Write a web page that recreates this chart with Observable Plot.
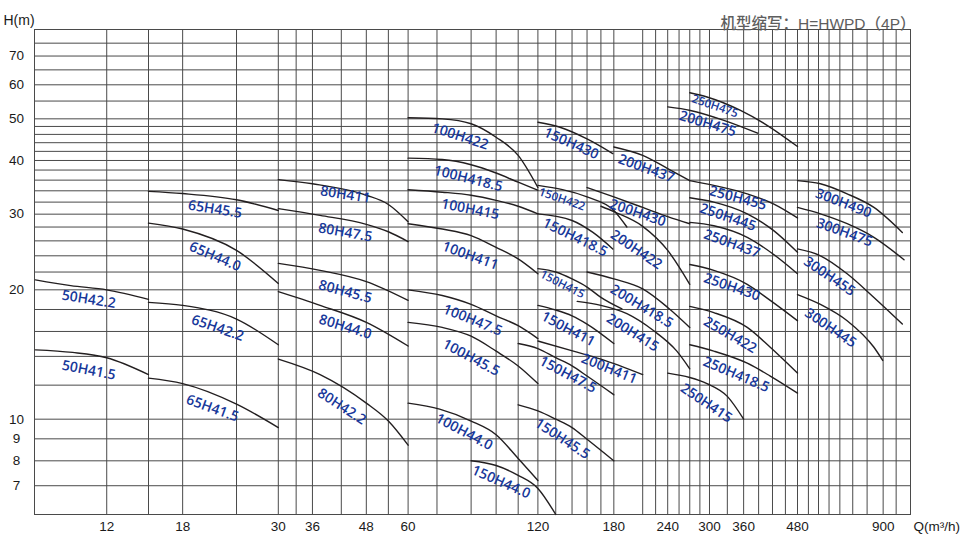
<!DOCTYPE html>
<html>
<head>
<meta charset="utf-8">
<script src="https://cdn.jsdelivr.net/npm/d3@7"></script>
<script src="https://cdn.jsdelivr.net/npm/@observablehq/plot@0.6"></script>
<style>
  body { margin: 0; background: #fff; }
</style>
</head>
<body>
<div id="chart"></div>
<script>
// ---------- axis values ----------
const xTicks = [12, 18, 30, 36, 48, 60, 120, 180, 240, 300, 360, 480, 900];
const yTicks = [7, 8, 9, 10, 20, 30, 40, 50, 60, 70];
const xGrid = [12, 15, 18, 24, 30, 33, 36, 42, 48, 54, 60, 70, 84, 96, 108, 120, 132, 144, 156, 168, 180,
  210, 225, 240, 255, 270, 285, 300, 330, 360, 390, 420, 450, 480, 520, 560, 605, 655, 720, 800, 900, 990];
const yGrid = [7, 8, 9, 10, 12, 14, 16, 18, 20, 22, 24, 26, 28, 30, 32, 34, 36, 38, 40, 42, 44, 46, 48, 50,
  55, 60, 65, 70, 75];

const title = "机型缩写：H=HWPD（4P）";
const xTitle = "Q(m³/h)";
const yTitle = "H(m)";

// ---------- pump curves (Q in m³/h, H in m) ----------
const curves50 = [
  {model: "50H42.2", q: [8.2, 9.9, 12, 15], h: [21.1, 20.45, 20.0, 19.0]},
  {model: "50H41.5", q: [8.2, 10, 12, 15], h: [14.5, 14.3, 13.9, 12.7]}
];
const curves65 = [
  {model: "65H45.5", q: [15, 18, 24, 30], h: [33.9, 33.5, 32.4, 30.6]},
  {model: "65H44.0", q: [15, 18, 24, 30], h: [28.6, 27.7, 24.7, 20.7]},
  {model: "65H42.2", q: [15, 18, 24, 30], h: [18.7, 18.4, 17.1, 14.9]},
  {model: "65H41.5", q: [15, 18, 24, 30], h: [12.46, 12.1, 10.84, 9.56]}
];
const curves80 = [
  {model: "80H411", q: [30, 36, 48, 54, 60], h: [36.1, 35.3, 33.2, 31.6, 28.8]},
  {model: "80H47.5", q: [30, 37.5, 48, 54, 60], h: [30.9, 29.8, 28.4, 27.3, 25.9]},
  {model: "80H45.5", q: [30, 37.5, 48, 60], h: [23.05, 22.2, 20.9, 18.9]},
  {model: "80H44.0", q: [30, 37.5, 48, 60], h: [19.8, 18.4, 16.8, 14.8]},
  {model: "80H42.2", q: [30, 37.5, 48, 54, 60], h: [13.8, 12.7, 10.9, 9.9, 8.7]}
];
const curves100 = [
  {model: "100H422", q: [60, 72, 84, 96, 108, 120], h: [50.3, 50.0, 48.7, 45.3, 41.1, 34.6]},
  {model: "100H418.5", q: [60, 72, 84, 96, 108, 120], h: [40.5, 40.2, 39.1, 37.4, 35.6, 34.1]},
  {model: "100H415", q: [60, 72, 84, 96, 108, 120], h: [34.2, 33.75, 33.2, 32.3, 31.3, 30.05]},
  {model: "100H411", q: [60, 72, 84, 96, 108, 120], h: [28.5, 27.7, 26.75, 25.1, 23.6, 21.8]},
  {model: "100H47.5", q: [60, 72, 84, 96, 108, 120], h: [20.0, 19.4, 18.5, 17.4, 16.5, 15.4]},
  {model: "100H45.5", q: [60, 72, 84, 96, 108, 120], h: [16.8, 16.35, 15.6, 14.4, 13.3, 12.1]},
  {model: "100H44.0", q: [60, 71, 84, 96, 108, 120], h: [10.9, 10.55, 9.9, 9.2, 8.1, 7.2]}
];
const curves150 = [
  {model: "150H430", q: [120, 135, 156, 179], h: [49.1, 47.8, 44.9, 41.5]},
  {model: "150H422", q: [120, 156, 180, 193], h: [35.0, 32.9, 30.6, 28.0]},
  {model: "150H418.5", q: [120, 144, 161, 179], h: [30.05, 29.0, 27.2, 24.9]},
  {model: "150H415", q: [120, 132, 144, 156, 168, 188], h: [22.4, 22.0, 21.2, 20.3, 19.2, 18.05]},
  {model: "150H411", q: [120, 132, 144, 156, 180], h: [18.4, 17.95, 17.4, 16.65, 15.0]},
  {model: "150H47.5", q: [108, 120, 132, 144, 156, 180], h: [15.0, 14.6, 13.9, 13.3, 12.6, 11.4]},
  {model: "150H45.5", q: [108, 120, 132, 144, 156, 180], h: [10.8, 10.45, 10.0, 9.56, 8.98, 8.0]},
  {model: "150H44.0", q: [84, 96, 108, 120, 132], h: [8.0, 7.8, 7.4, 6.9, 6.0]}
];
const curves200 = [
  {model: "200H475", q: [240, 271, 324, 388], h: [53.3, 52.3, 49.6, 46.3]},
  {model: "200H437", q: [180, 210, 240, 270], h: [43.0, 41.1, 38.3, 35.9]},
  {model: "200H430", q: [156, 180, 210, 240, 270], h: [34.6, 32.9, 31.1, 29.6, 28.5]},
  {model: "200H422", q: [168, 180, 210, 240, 270], h: [31.3, 30.4, 28.1, 24.7, 20.6]},
  {model: "200H418.5", q: [156, 180, 210, 240, 270], h: [22.0, 21.2, 20.1, 18.2, 16.35]},
  {model: "200H415", q: [148, 168, 193, 222, 252, 270], h: [18.8, 18.4, 17.6, 16.1, 14.4, 13.1]},
  {model: "200H411", q: [120, 145, 168, 210], h: [15.2, 14.4, 13.8, 12.7]}
];
const curves250 = [
  {model: "250H475", q: [270, 296, 354, 408, 480], h: [57.5, 56.2, 52.3, 48.3, 43.1]},
  {model: "250H455", q: [270, 307, 367, 422, 480], h: [35.9, 35.0, 33.45, 31.7, 29.4]},
  {model: "250H445", q: [270, 307, 367, 422, 480], h: [32.75, 32.0, 30.05, 27.5, 24.45]},
  {model: "250H437", q: [270, 307, 367, 422, 480], h: [28.7, 28.2, 26.5, 24.2, 21.8]},
  {model: "250H430", q: [270, 307, 367, 415, 480], h: [22.9, 22.2, 20.6, 18.9, 16.95]},
  {model: "250H422", q: [270, 307, 367, 415, 480], h: [18.3, 17.7, 16.35, 14.7, 12.8]},
  {model: "250H418.5", q: [270, 307, 367, 415, 480], h: [14.9, 14.4, 13.5, 12.6, 11.5]},
  {model: "250H415", q: [240, 270, 296, 330, 360], h: [12.8, 12.5, 12.1, 11.3, 10.0]}
];
const curves300 = [
  {model: "300H490", q: [480, 568, 691, 841, 1036], h: [35.9, 35.3, 33.45, 31.1, 27.2]},
  {model: "300H475", q: [480, 568, 691, 841, 1049], h: [31.1, 30.05, 28.5, 26.5, 23.5]},
  {model: "300H455", q: [480, 568, 691, 841, 1036], h: [24.9, 24.0, 21.8, 19.2, 16.65]},
  {model: "300H445", q: [480, 568, 691, 841, 897], h: [19.5, 18.5, 16.95, 14.7, 13.7]}
];

// ---------- curve labels (anchor point in Q / H) ----------
const labelModels = ["50H42.2", "50H41.5", "65H45.5", "65H44.0", "65H42.2", "65H41.5",
  "80H411", "80H47.5", "80H45.5", "80H44.0", "80H42.2",
  "100H422", "100H418.5", "100H415", "100H411", "100H47.5", "100H45.5", "100H44.0",
  "150H44.0", "150H45.5", "150H47.5", "150H411", "150H430", "150H418.5",
  "200H437", "200H430", "200H422", "200H418.5", "200H415", "200H411", "200H475",
  "250H455", "250H445", "250H437", "250H430", "250H422", "250H418.5", "250H415",
  "300H490", "300H475", "300H455", "300H445"];
const labelQ = [10.9, 10.9, 21.4, 21.4, 21.7, 21.1,
  42.9, 42.9, 42.9, 42.9, 42.1,
  79.2, 82.7, 83.6, 83.6, 84.7, 84.0, 80.9,
  98.6, 136.7, 140.8, 141, 143.4, 146.4,
  214, 204.5, 203, 209, 199, 175.6, 297,
  349, 331, 338, 338, 335, 346, 295,
  673, 678, 607, 612];
const labelH = [19.0, 13.0, 30.8, 23.9, 16.3, 10.6,
  33.3, 27.2, 19.8, 16.4, 10.7,
  45.5, 36.3, 30.8, 24.0, 17.0, 13.9, 9.34,
  7.14, 9.0, 12.7, 16.2, 43.8, 26.5,
  38.3, 30.2, 24.8, 18.3, 15.9, 13.1, 48.7,
  32.7, 29.5, 25.6, 20.3, 15.7, 12.7, 10.9,
  31.8, 27.2, 21.5, 16.3];
const smallLabelModels = ["150H422", "150H415", "250H475"];
const smallLabelQ = [136.5, 136.7, 309];
const smallLabelH = [32.5, 20.6, 53.5];

// ---------- styling (not data) ----------
const labelAngle = [9, 11, 9, 23, 19, 20,
  9, 10, 15, 17, 33,
  18, 14, 11, 20, 22, 28, 28,
  24, 33, 28, 28, 24, 26,
  20, 19, 34, 31, 32, 22, 17,
  15, 19, 20, 19, 30, 23, 34,
  21, 20, 34, 34];
const smallLabelAngle = [19, 27, 19];
const gridColor = "#4a4a4a";
const curveColor = "#231f20";
const labelColor = "#17389a";

const allCurves = [...curves50, ...curves65, ...curves80, ...curves100, ...curves150,
  ...curves200, ...curves250, ...curves300];
const rows = allCurves.flatMap(c => c.q.map((q, i) => ({model: c.model, q, h: c.h[i]})));
const labels = labelModels.map((m, i) => ({model: m, q: labelQ[i], h: labelH[i], angle: labelAngle[i]}));
const smallLabels = smallLabelModels.map((m, i) => ({model: m, q: smallLabelQ[i], h: smallLabelH[i], angle: smallLabelAngle[i]}));

const axisFont = "'Liberation Sans', Arial, sans-serif";
const labelFont = "'Open Sans', 'Noto Sans', sans-serif";

const chart = Plot.plot({
  width: 962,
  height: 542,
  marginLeft: 34,
  marginRight: 52,
  marginTop: 29,
  marginBottom: 28,
  style: {fontFamily: axisFont, background: "#fff", overflow: "visible"},
  x: {type: "log", domain: [8.16, 480, 1100], range: [34, 797, 910], axis: null},
  y: {type: "log", domain: [6, 80.7], axis: null},
  marks: [
    Plot.ruleX(xGrid, {x: d => d, stroke: gridColor, strokeWidth: 1}),
    Plot.ruleY(yGrid, {y: d => d, stroke: gridColor, strokeWidth: 1}),
    Plot.frame({stroke: gridColor, strokeWidth: 1}),
    Plot.line(rows, {x: "q", y: "h", z: "model", curve: "monotone-x", stroke: curveColor, strokeWidth: 1.4}),
    Plot.text(labels, {x: "q", y: "h", text: "model", rotate: "angle", fill: labelColor,
      fontSize: 14, fontWeight: 600, fontFamily: labelFont}),
    Plot.text(smallLabels, {x: "q", y: "h", text: "model", rotate: "angle", fill: labelColor,
      fontSize: 11.5, fontWeight: 600, fontFamily: labelFont}),
    Plot.text(xTicks, {x: d => d, text: d => String(d), frameAnchor: "bottom", dy: 16,
      fontSize: 13.5, fill: "#1a1a1a"}),
    Plot.text(yTicks, {y: d => d, text: d => String(d), frameAnchor: "left", dx: -18,
      textAnchor: "middle", fontSize: 13.5, fill: "#1a1a1a"}),
    Plot.text([xTitle], {frameAnchor: "bottom-right", dx: 3, dy: 16, textAnchor: "start",
      fontSize: 13.5, fill: "#1a1a1a"}),
    Plot.text([yTitle], {frameAnchor: "top-left", dx: -31, dy: -14, textAnchor: "start",
      fontSize: 14, fill: "#1a1a1a"}),
    Plot.text([title], {frameAnchor: "top-right", dx: 5, dy: -12, textAnchor: "end",
      fontSize: 15.5, fontWeight: 500, fill: "#5e5e5e",
      fontFamily: "'Liberation Sans', 'Noto Sans CJK SC', sans-serif"})
  ]
});
document.getElementById("chart").appendChild(chart);
</script>
</body>
</html>
